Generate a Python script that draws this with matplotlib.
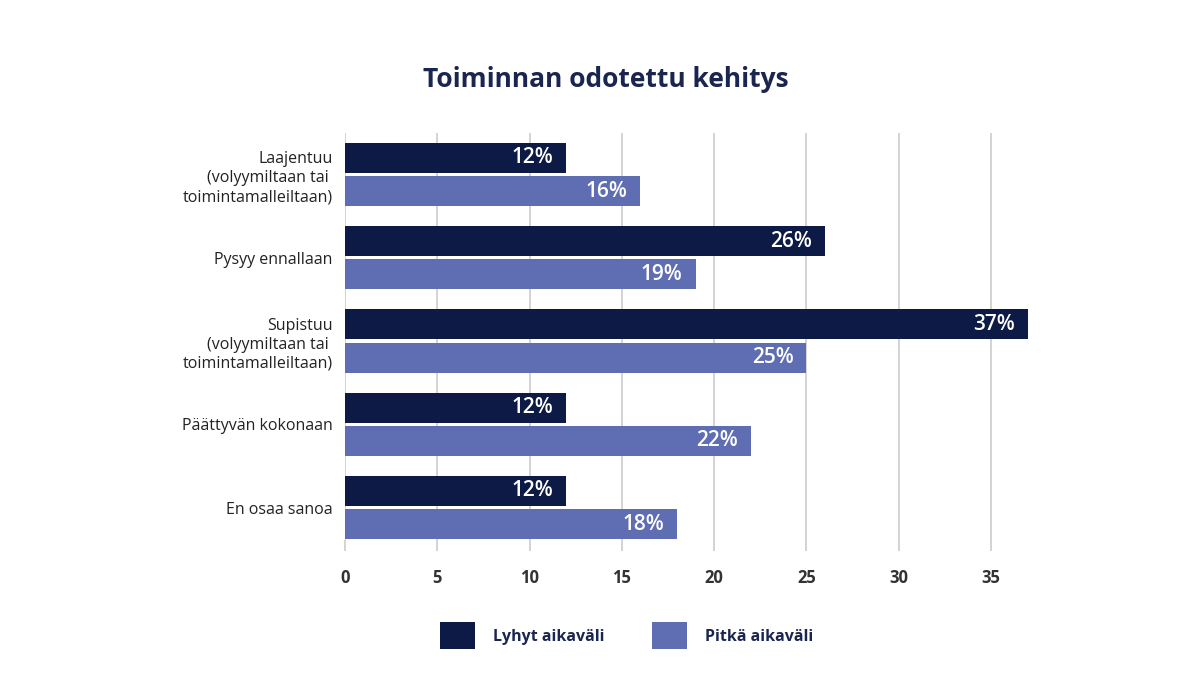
import matplotlib.pyplot as plt
from matplotlib.patches import Patch

categories = ["Laajentuu\n(volyymiltaan tai \ntoimintamalleiltaan)", "Pysyy ennallaan",
              "Supistuu\n(volyymiltaan tai \ntoimintamalleiltaan)", "Päättyvän kokonaan", "En osaa sanoa"]
short_term = [12, 26, 37, 12, 12]
long_term = [16, 19, 25, 22, 18]
series_names = ["Lyhyt aikaväli", "Pitkä aikaväli"]
xticks = [0, 5, 10, 15, 20, 25, 30, 35]

plt.rcParams['font.family'] = ['Open Sans', 'DejaVu Sans']
dark = '#0c1a45'
light = '#5f6db3'

fig = plt.figure(figsize=(12, 6.75), dpi=100)
ax = fig.add_axes([0.2875, 0.2, 0.5767, 0.603])

pos = list(range(len(categories)))
h = 0.36
b1 = ax.barh([p - 0.2 for p in pos], short_term, height=h, color=dark, zorder=3)
b2 = ax.barh([p + 0.2 for p in pos], long_term, height=h, color=light, zorder=3)
for bars, vals in ((b1, short_term), (b2, long_term)):
    for r, v in zip(bars, vals):
        ax.text(v - 0.7, r.get_y() + r.get_height() / 2, f"{v}%", ha='right', va='center',
                color='white', fontsize=15, fontweight='semibold', zorder=4)

ax.set_xlim(0, 37.5)
ax.set_ylim(4.39, -0.5)
ax.set_yticks(pos)
ax.set_yticklabels(categories, fontsize=11.5, color='#222222', linespacing=1.25)
ax.tick_params(axis='y', length=0, pad=9)
ax.set_xticks(xticks)
ax.set_xticklabels([str(t) for t in xticks], fontsize=12, fontweight='bold', color='#333333')
ax.tick_params(axis='x', length=8, width=1.2, color='#cccccc', pad=13)
ax.grid(axis='x', color='#cccccc', linewidth=1.2, zorder=0)
for s in ax.spines.values():
    s.set_visible(False)

fig.text(0.505, 0.882, "Toiminnan odotettu kehitys", ha='center', va='center',
         fontsize=19, fontweight='bold', color='#1a2550')

handles = [Patch(facecolor=dark, label=series_names[0]), Patch(facecolor=light, label=series_names[1])]
leg = fig.legend(handles=handles, loc='center', bbox_to_anchor=(0.522, 0.058), ncol=2, frameon=False,
                 handlelength=2.2, handleheight=2.2, handletextpad=1.1, columnspacing=3.0,
                 prop={'size': 11.5, 'weight': 'bold'})
for t in leg.get_texts():
    t.set_color('#1a2550')

fig.savefig('out.png', dpi=100, facecolor='white')
